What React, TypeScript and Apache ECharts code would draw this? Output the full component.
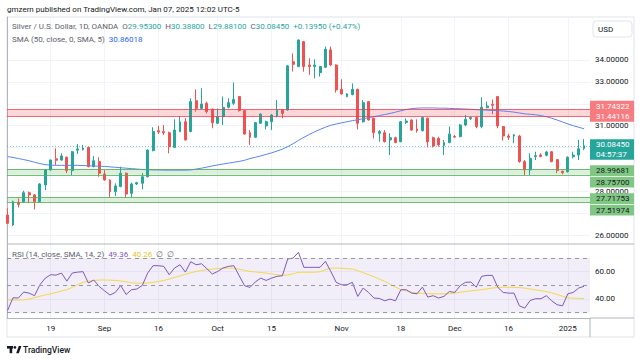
import React, { useEffect, useRef } from "react";
import * as echarts from "echarts";

// ---------- data ----------
const opens = [
  26.92, 26.47, 27.49, 27.53, 27.94, 27.84, 27.53, 28.29, 28.98, 29.49,
  29.43, 29.56, 28.95, 29.88, 29.92, 30.01, 29.13, 29.36, 28.79, 28.52,
  27.99, 28.22, 28.83, 27.91, 28.34, 28.37, 28.67, 29.86, 30.77, 30.73,
  30.68, 30.01, 30.73, 31.18, 30.73, 32.14, 31.79, 32.02, 31.75, 31.11,
  31.41, 31.84, 32.02, 32.33, 31.69, 30.68, 30.47, 31.11, 30.99, 31.18,
  31.44, 31.72, 31.72, 33.92, 33.7, 34.84, 33.77, 33.7, 33.42, 33.67,
  34.46, 33.77, 32.66, 32.33, 32.42, 32.66, 31.18, 32.1, 31.34, 30.65,
  30.68, 30.35, 30.45, 30.27, 31.15, 31.26, 30.85, 30.77, 31.34, 30.45,
  30.42, 30.09, 30.23, 30.51, 30.5, 31.03, 31.32, 31.37, 30.96, 31.82,
  31.98, 32.33, 30.96, 30.53, 30.53, 30.53, 29.36, 28.98, 29.59, 29.66,
  29.65, 29.81, 29.45, 28.92, 28.9, 29.58, 29.66, 29.953,
];
const closes = [
  26.54, 27.53, 27.41, 27.94, 27.84, 27.53, 28.34, 28.98, 29.43, 29.42,
  29.62, 28.95, 29.81, 29.94, 29.98, 29.13, 29.4, 28.83, 28.52, 27.99,
  28.25, 28.83, 27.88, 28.34, 28.4, 28.67, 29.89, 30.73, 30.71, 30.68,
  30.04, 30.8, 31.18, 30.35, 32.1, 31.79, 31.99, 31.64, 31.14, 31.41,
  31.84, 32.05, 32.2, 31.69, 30.62, 30.47, 31.14, 31.53, 31.18, 31.49,
  31.72, 31.56, 33.73, 33.8, 34.91, 33.7, 33.7, 33.77, 33.7, 34.49,
  33.77, 32.63, 32.45, 32.45, 32.66, 31.11, 32.05, 31.26, 30.68, 30.73,
  30.27, 30.45, 30.23, 31.18, 31.21, 30.8, 30.77, 31.37, 30.27, 30.07,
  30.12, 30.23, 30.62, 30.48, 31.03, 31.29, 31.37, 30.96, 31.84, 31.9,
  31.93, 30.99, 30.53, 30.47, 30.58, 29.36, 28.98, 29.51, 29.63, 29.59,
  29.8, 29.36, 28.95, 28.85, 29.56, 29.66, 29.945, 30.0845,
];
const lows = [
  26.51, 26.42, 27.27, 27.49, 27.46, 27.18, 27.49, 28.06, 28.95, 29.21,
  29.4, 28.83, 28.75, 29.71, 29.86, 29.1, 29.1, 28.67, 28.49, 27.73,
  27.79, 28.19, 27.71, 27.73, 28.29, 28.09, 28.64, 29.83, 30.62, 30.58,
  29.74, 29.98, 30.7, 30.32, 30.7, 31.64, 31.76, 31.56, 30.88, 31.08,
  31.03, 31.79, 31.95, 31.64, 30.58, 30.12, 30.44, 31.08, 30.83, 30.8,
  31.38, 31.34, 31.69, 33.47, 33.67, 33.47, 33.32, 33.16, 33.24, 33.64,
  33.73, 32.51, 32.42, 32.3, 32.39, 30.83, 31.14, 31.23, 30.42, 30.27,
  30.23, 29.66, 30.2, 30.24, 31.08, 30.77, 30.68, 30.74, 30.01, 30.01,
  30.04, 29.66, 30.2, 30.44, 30.47, 30.99, 31.26, 30.88, 30.88, 31.79,
  31.53, 30.88, 30.32, 30.35, 30.2, 29.31, 28.75, 28.75, 29.43, 29.56,
  29.6, 29.33, 28.83, 28.78, 28.86, 29.51, 29.43, 29.881,
];
const highs = [
  27.23, 27.58, 27.68, 28.03, 27.99, 27.88, 28.37, 29.01, 29.46, 29.97,
  29.74, 29.59, 29.84, 30.16, 30.12, 30.04, 29.62, 29.56, 28.98, 28.55,
  28.37, 29.13, 28.86, 28.4, 28.44, 28.83, 29.92, 30.93, 30.99, 31.03,
  30.73, 31.29, 31.44, 31.34, 32.25, 32.66, 32.71, 32.1, 31.79, 31.79,
  32.33, 32.25, 32.97, 32.36, 31.72, 30.8, 31.17, 31.56, 31.23, 31.53,
  32.17, 31.75, 33.77, 34.3, 34.94, 34.87, 34.08, 34.03, 33.73, 34.61,
  34.61, 33.8, 33.12, 32.48, 32.93, 32.69, 32.17, 32.13, 31.37, 30.8,
  30.8, 30.65, 30.5, 31.21, 31.34, 31.29, 31.29, 31.41, 31.37, 30.5,
  30.5, 30.35, 30.96, 30.58, 31.08, 31.49, 31.41, 31.41, 32.3, 32.1,
  32.2, 32.36, 30.99, 30.62, 30.62, 30.58, 29.43, 29.74, 29.81, 29.74,
  29.85, 29.84, 29.48, 28.95, 29.6, 29.81, 30.35, 30.388,
];
const sma50 = [
  29.59, 29.55, 29.5, 29.45, 29.4, 29.33, 29.27, 29.22, 29.2, 29.19,
  29.19, 29.19, 29.19, 29.19, 29.18, 29.17, 29.16, 29.15, 29.14, 29.12,
  29.1, 29.08, 29.06, 29.04, 29.02, 29.0, 28.99, 28.98, 28.98, 28.97,
  28.97, 28.97, 28.97, 28.97, 28.98, 29.02, 29.06, 29.11, 29.16, 29.21,
  29.25, 29.29, 29.33, 29.37, 29.42, 29.5, 29.56, 29.62, 29.69, 29.76,
  29.84, 29.93, 30.04, 30.18, 30.33, 30.47, 30.6, 30.72, 30.83, 30.93,
  31.02, 31.08, 31.13, 31.18, 31.23, 31.27, 31.32, 31.37, 31.41, 31.46,
  31.51, 31.56, 31.62, 31.68, 31.74, 31.78, 31.8, 31.81, 31.81, 31.81,
  31.8, 31.8, 31.79, 31.78, 31.77, 31.76, 31.75, 31.73, 31.72, 31.71,
  31.7, 31.69, 31.67, 31.65, 31.62, 31.58, 31.54, 31.52, 31.5, 31.46,
  31.41, 31.34, 31.26, 31.17, 31.08, 31.0, 30.93, 30.86018,
];
const rsi = [
  31.6, 40.9, 40.7, 45.1, 44.3, 42.4, 50.4, 55.3, 57.8, 57.5,
  59.0, 53.1, 59.0, 59.7, 60.0, 51.7, 53.9, 49.2, 46.0, 42.9,
  44.8, 49.9, 43.3, 46.8, 47.3, 49.9, 59.0, 64.4, 64.4, 63.9,
  57.8, 62.7, 65.1, 59.7, 67.3, 65.1, 65.8, 62.2, 58.3, 60.2,
  62.7, 63.9, 64.4, 57.0, 49.7, 48.5, 52.6, 55.3, 53.6, 55.3,
  56.6, 57.0, 69.3, 70.0, 74.2, 63.2, 63.2, 63.2, 63.2, 67.6,
  60.2, 52.2, 50.4, 50.4, 52.2, 41.9, 48.0, 44.8, 40.7, 40.4,
  38.7, 39.9, 38.7, 46.8, 46.8, 44.3, 43.8, 48.7, 41.4, 42.4,
  40.7, 41.9, 45.5, 44.8, 49.7, 52.2, 52.4, 48.7, 56.6, 57.3,
  57.3, 48.5, 44.8, 44.3, 44.3, 35.0, 33.3, 38.9, 40.2, 40.2,
  42.4, 38.7, 35.8, 35.0, 43.8, 44.8, 48.0, 49.36,
];
const rsiMa = [
  39.4, 39.3, 39.2, 39.4, 40.0, 41.0, 42.0, 43.0, 43.8, 44.8,
  45.8, 46.8, 48.5, 50.5, 52.2, 53.0, 53.6, 53.9, 53.9, 53.8,
  53.6, 53.2, 52.6, 51.9, 51.6, 51.6, 51.7, 52.2, 52.8, 53.6,
  54.6, 55.8, 57.0, 58.1, 59.2, 60.2, 60.9, 61.5, 61.9, 62.3,
  62.6, 62.7, 62.5, 61.8, 61.0, 60.2, 59.8, 59.4, 59.0, 58.4,
  57.8, 57.3, 57.6, 58.5, 59.5, 59.6, 59.6, 59.6, 60.0, 61.5,
  62.5, 62.7, 62.5, 62.2, 61.9, 60.8, 59.3, 57.8, 56.3, 54.6,
  52.9, 50.8, 48.8, 46.8, 45.8, 45.0, 44.3, 44.1, 43.9, 43.8,
  43.8, 43.8, 43.8, 44.3, 44.9, 45.5, 45.9, 46.4, 46.8, 47.4,
  48.0, 48.5, 48.6, 48.6, 48.5, 48.3, 48.0, 47.3, 46.7, 46.1,
  45.5, 44.5, 43.3, 42.0, 40.9, 40.6, 40.5, 40.26,
];

const tickIdx = [8, 18, 28, 39, 49, 62, 73, 83, 93, 104];
const tickLabels = ["19", "Sep", "16", "Oct", "15", "Nov", "18", "Dec", "16", "2025"];
const priceTicks = [26, 27, 28, 29, 30, 31, 32, 33, 34];
// price labels the reference leaves visible (others sit under the coloured tags)
const priceLabelTicks = [26, 28, 31, 33, 34];
const rsiTicks = [40, 60];
const rsiLevels = [70, 50, 30];
const redZone = [31.44116, 31.74322];
const greenZoneA = [28.757, 28.99681];
const greenZoneB = [27.51974, 27.71753];
const countdown = "04:57:37";

// ---------- styling ----------
const FONT = "Roboto, 'Noto Sans', sans-serif";
const UP = "#26a69a";
const DOWN = "#ef5350";
const TXT = "#131722";
const GRID = "#f0f3fa";
const X_MIN = -0.111;
const X_MAX = 108.11;

export default function App() {
  const ref = useRef<HTMLDivElement>(null);

  useEffect(() => {
    const chart = echarts.init(ref.current!, null, { renderer: "svg" });
    const idx = closes.map((_, i) => i);
    const n = closes.length;
    const last = n - 1;
    const chg = closes[last] - closes[last - 1];
    const pct = (chg / closes[last - 1]) * 100;

    const xAxisBase = {
      type: "value",
      min: X_MIN,
      max: X_MAX,
      axisTick: { show: false, customValues: tickIdx },
      splitLine: { show: true, lineStyle: { color: GRID, width: 1 } },
    };

    const option: any = {
      animation: false,
      backgroundColor: "#ffffff",
      grid: [
        { left: 7, top: 17, width: 583, height: 227 },
        { left: 7, top: 244, width: 583, height: 74 },
      ],
      xAxis: [
        {
          ...xAxisBase,
          gridIndex: 0,
          axisLine: { show: false },
          axisLabel: { show: false, customValues: tickIdx },
        },
        {
          ...xAxisBase,
          gridIndex: 1,
          axisLine: { show: true, lineStyle: { color: "#b2b5be" } },
          axisLabel: {
            show: true,
            customValues: tickIdx,
            margin: 6,
            color: TXT,
            fontSize: 8,
            fontFamily: FONT,
            formatter: (v: number) => {
              const k = tickIdx.indexOf(Math.round(v));
              return k >= 0 ? tickLabels[k] : "";
            },
          },
        },
      ],
      yAxis: [
        {
          type: "value",
          gridIndex: 0,
          position: "right",
          min: 25.598,
          max: 35.963,
          axisLine: { show: true, lineStyle: { color: "#b2b5be" } },
          axisTick: { show: false, customValues: priceTicks },
          axisLabel: {
            customValues: priceLabelTicks,
            margin: 5,
            color: TXT,
            fontSize: 8,
            fontFamily: FONT,
            formatter: (v: number) => v.toFixed(5),
          },
          splitLine: { show: true, lineStyle: { color: GRID } },
        },
        {
          type: "value",
          gridIndex: 1,
          position: "right",
          min: 26.08,
          max: 80.29,
          axisLine: { show: true, lineStyle: { color: "#b2b5be" } },
          axisTick: { show: false, customValues: rsiTicks },
          axisLabel: {
            customValues: rsiTicks,
            margin: 5,
            color: TXT,
            fontSize: 8,
            fontFamily: FONT,
            formatter: (v: number) => v.toFixed(2),
          },
          splitLine: { show: true, lineStyle: { color: GRID } },
        },
      ],
      series: [
        {
          name: "zones",
          type: "line",
          xAxisIndex: 0,
          yAxisIndex: 0,
          data: [],
          z: 1,
          silent: true,
          markArea: {
            silent: true,
            data: [
              [{ yAxis: redZone[0], itemStyle: { color: "rgba(242,54,69,0.2)" } }, { yAxis: redZone[1] }],
              [{ yAxis: greenZoneA[0], itemStyle: { color: "rgba(76,175,80,0.2)" } }, { yAxis: greenZoneA[1] }],
              [{ yAxis: greenZoneB[0], itemStyle: { color: "rgba(76,175,80,0.2)" } }, { yAxis: greenZoneB[1] }],
            ],
          },
          markLine: {
            silent: true,
            symbol: ["none", "none"],
            label: { show: false },
            data: [
              ...redZone.map((v) => ({ yAxis: v, lineStyle: { color: "rgba(242,54,69,0.75)", width: 1.2, type: "solid" } })),
              ...greenZoneA.map((v) => ({ yAxis: v, lineStyle: { color: "rgba(76,175,80,0.8)", width: 1.2, type: "solid" } })),
              ...greenZoneB.map((v) => ({ yAxis: v, lineStyle: { color: "rgba(76,175,80,0.8)", width: 1.2, type: "solid" } })),
              { yAxis: closes[last], lineStyle: { color: "rgba(38,166,154,0.6)", width: 1, type: [1, 2] } },
            ],
          },
        },
        {
          name: "XAGUSD",
          type: "candlestick",
          xAxisIndex: 0,
          yAxisIndex: 0,
          z: 3,
          barWidth: 2.4,
          encode: { x: 0, y: [1, 2, 3, 4] },
          data: idx.map((i) => [i, opens[i], closes[i], lows[i], highs[i]]),
          itemStyle: {
            color: UP,
            color0: DOWN,
            borderColor: UP,
            borderColor0: DOWN,
            borderWidth: 1,
          },
        },
        {
          name: "SMA",
          type: "line",
          xAxisIndex: 0,
          yAxisIndex: 0,
          z: 4,
          showSymbol: false,
          data: idx.map((i) => [i, sma50[i]]),
          lineStyle: { color: "#5b84f0", width: 1 },
        },
        {
          name: "RSI",
          type: "line",
          xAxisIndex: 1,
          yAxisIndex: 1,
          z: 4,
          showSymbol: false,
          data: idx.map((i) => [i, rsi[i]]),
          lineStyle: { color: "#7e57c2", width: 1 },
          markArea: {
            silent: true,
            data: [[{ yAxis: 30, itemStyle: { color: "rgba(126,87,194,0.1)" } }, { yAxis: 70 }]],
          },
          markLine: {
            silent: true,
            symbol: ["none", "none"],
            label: { show: false },
            lineStyle: { color: "#9598a1", width: 1, type: [4, 4] },
            data: rsiLevels.map((v) => ({ yAxis: v })),
          },
        },
        {
          name: "RSI MA",
          type: "line",
          xAxisIndex: 1,
          yAxisIndex: 1,
          z: 3,
          showSymbol: false,
          data: idx.map((i) => [i, rsiMa[i]]),
          lineStyle: { color: "#f5d742", width: 1 },
        },
      ],
    };
    chart.setOption(option);

    const py = (v: number) => chart.convertToPixel({ yAxisIndex: 0 }, v) as number;
    const txt = (x: number, y: number, text: string, extra: any = {}, z = 50) => ({
      type: "text",
      x,
      y,
      z,
      silent: true,
      style: {
        text,
        fill: TXT,
        fontSize: 8,
        fontFamily: FONT,
        textVerticalAlign: "middle",
        ...extra,
      },
    });

    const tagSpecs = [
      { v: redZone[1], dy: -3.2, bg: "#f77c80", fg: "#ffffff" },
      { v: redZone[0], dy: 0.2, bg: "#f77c80", fg: "#ffffff" },
      { v: greenZoneA[1], dy: 1, bg: "#81c784", fg: TXT },
      { v: greenZoneA[0], dy: 7.4, bg: "#81c784", fg: TXT },
      { v: greenZoneB[1], dy: 1, bg: "#81c784", fg: TXT },
      { v: greenZoneB[0], dy: 8.3, bg: "#81c784", fg: TXT },
    ];
    const tags: any[] = [];
    tagSpecs.forEach((t) => {
      const cy = py(t.v) + t.dy;
      tags.push({ type: "rect", z: 49, silent: true, shape: { x: 590, y: cy - 5.4, width: 44, height: 10.8 }, style: { fill: t.bg } });
      tags.push(txt(596, cy, t.v.toFixed(5), { fill: t.fg }));
    });
    const pl = py(closes[last]);
    tags.push({ type: "rect", z: 49, silent: true, shape: { x: 590, y: pl - 6.5, width: 44, height: 20.5 }, style: { fill: UP } });
    tags.push(txt(596, pl - 1.3, closes[last].toFixed(5), { fill: "#ffffff" }));
    tags.push(txt(596, pl + 8.3, countdown, { fill: "#ffffff" }));

    const rich = {
      g: { fill: "#5d606b", fontSize: 8, fontFamily: FONT },
      t: { fill: UP, fontSize: 8, fontFamily: FONT },
      b: { fill: "#2962ff", fontSize: 8, fontFamily: FONT },
      p: { fill: "#7e57c2", fontSize: 8, fontFamily: FONT },
      y: { fill: "#e8c51e", fontSize: 8, fontFamily: FONT },
    };
    const sign = chg >= 0 ? "+" : "";

    const graphics: any[] = [
      // frame & separators
      { type: "rect", silent: true, z: -1, shape: { x: 7, y: 17, width: 627, height: 320 }, style: { fill: "none", stroke: "#e0e3eb", lineWidth: 1 } },
      { type: "line", silent: true, shape: { x1: 7, y1: 244, x2: 634, y2: 244 }, style: { stroke: "#b2b5be", lineWidth: 1 } },
      { type: "line", silent: true, shape: { x1: 590, y1: 318, x2: 634, y2: 318 }, style: { stroke: "#b2b5be", lineWidth: 1 } },
      { type: "line", silent: true, shape: { x1: 590, y1: 318, x2: 590, y2: 337 }, style: { stroke: "#b2b5be", lineWidth: 1 } },
      // header
      txt(7, 9, "gmzern published on TradingView.com, Jan 07, 2025 12:02 UTC-5", { fill: TXT }),
      {
        type: "text",
        x: 12,
        y: 26.5,
        silent: true,
        style: {
          text:
            "{g|Silver / U.S. Dollar, 1D, OANDA  O}{t|" + opens[last].toFixed(5) +
            "}{g|  H}{t|" + highs[last].toFixed(5) +
            "}{g|  L}{t|" + lows[last].toFixed(5) +
            "}{g|  C}{t|" + closes[last].toFixed(5) +
            "  " + sign + chg.toFixed(5) + " (" + sign + pct.toFixed(2) + "%)}",
          rich,
          textVerticalAlign: "middle",
        },
      },
      {
        type: "text",
        x: 12,
        y: 39,
        silent: true,
        style: {
          text: "{g|SMA (50, close, 0, SMA, 5)  }{b|" + sma50[last].toFixed(5) + "}",
          rich,
          textVerticalAlign: "middle",
        },
      },
      {
        type: "text",
        x: 12,
        y: 254.5,
        silent: true,
        style: {
          text:
            "{g|RSI (14, close, SMA, 14, 2)  }{p|" + rsi[last].toFixed(2) +
            "}{g|  }{y|" + rsiMa[last].toFixed(2) + "}{g|  ∅  ∅}",
          rich,
          textVerticalAlign: "middle",
        },
      },
      // USD box
      { type: "rect", silent: true, shape: { x: 593, y: 21, width: 39, height: 16, r: 3 }, style: { fill: "#ffffff", stroke: "#e0e3eb", lineWidth: 1 } },
      txt(598, 29.5, "USD", { fill: TXT }),
      // TradingView logo
      { type: "rect", silent: true, shape: { x: 7, y: 346, width: 6, height: 2.6 }, style: { fill: TXT } },
      { type: "rect", silent: true, shape: { x: 9.6, y: 346, width: 2.6, height: 7.2 }, style: { fill: TXT } },
      { type: "circle", silent: true, shape: { cx: 14.9, cy: 347.4, r: 1.4 }, style: { fill: TXT } },
      { type: "polygon", silent: true, shape: { points: [[16.2, 353.2], [18.8, 346], [21.4, 346], [18.8, 353.2]] }, style: { fill: TXT } },
      txt(23, 349.6, "TradingView", { fill: TXT, fontSize: 8.5, fontWeight: 500 }),
      ...tags,
    ];
    chart.setOption({ graphic: graphics });

    return () => chart.dispose();
  }, []);

  return (
    <div
      ref={ref}
      style={{ position: "fixed", left: 0, top: 0, width: 643, height: 361, background: "#ffffff" }}
    />
  );
}
